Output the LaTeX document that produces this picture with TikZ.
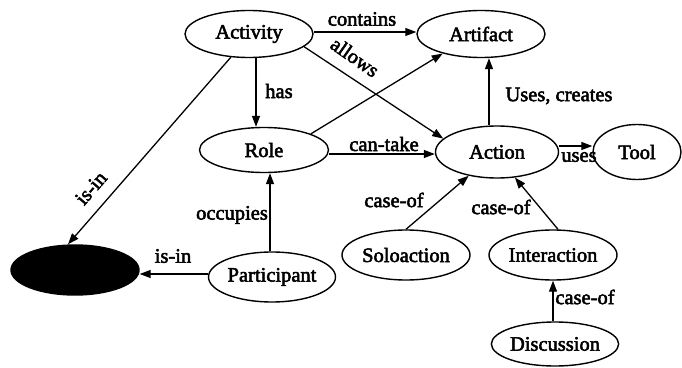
\documentclass[tikz,border=0pt]{standalone}
\usepackage{fontspec}
\setmainfont[FakeBold=2.5]{Liberation Serif}
\usetikzlibrary{shapes.geometric,arrows.meta}
\begin{document}
\begin{tikzpicture}[x=1pt,y=1pt,
  every node/.style={font=\fontsize{20.5}{24}\selectfont},
  concept/.style={ellipse,draw,line width=1.4pt,inner sep=0pt,
    minimum width=128pt,minimum height=47pt},
  rel/.style={line width=1.3pt,-{Triangle[length=11pt,width=8pt]}},
  lbl/.style={inner sep=0pt}]
\useasboundingbox (0,0) rectangle (682,367);

% concepts
\node[concept] (act) at (249,333) {Activity};
\node[concept] (art) at (481,333) {Artifact};
\node[concept,minimum height=45pt,minimum width=129pt] (role) at (264,217) {Role};
\node[concept,minimum width=123pt,minimum height=52pt] (action) at (497,215) {Action};
\node[concept,minimum width=88pt,minimum height=55pt] (tool) at (637,215) {Tool};
\node[concept,minimum height=50pt,fill=black] (ctx) at (75,97) {};
\node[concept,minimum width=127pt,minimum height=50pt] (part) at (272,90) {Participant};
\node[concept,minimum height=50pt] (solo) at (406,112) {Soloaction};
\node[concept,minimum height=50pt] (inter) at (553,112) {Interaction};
\node[concept,minimum width=125pt,minimum height=44pt] (disc) at (555,23) {Discussion};

% relations
\draw[rel] ([yshift=2]act.east) -- ([yshift=2]art.west);
\draw[rel] (act.-13) -- (action.166);
\draw[rel] ([xshift=7]act.south) -- ([xshift=-8]role.north);
\draw[rel] (role.19) -- (art.207);
\draw[rel] ([yshift=-4]role.east) -- ([yshift=-2]action.west);
\draw[rel] ([xshift=-8]action.north) -- ([xshift=8]art.south);
\draw[rel] ([yshift=6]action.east) -- ([yshift=6]tool.west);
\draw[rel] (solo.north) -- (action.220);
\draw[rel] ([xshift=5]inter.north) -- (action.-55);
\draw[rel] ([xshift=-2]disc.north) -- (inter.south);
\draw[rel] ([xshift=-2]part.north) -- ([xshift=6]role.south);
\draw[rel] ([yshift=3]part.west) -- ([yshift=-4]ctx.east);
\draw[rel] (act.232) -- ([xshift=-7]ctx.north);

% relation labels
\node[lbl] (lcontains) at (362,348) {contains};
\node[lbl,rotate=-35] (lallows) at (355,310) {allows};
\node[lbl] (lhas) at (279,276) {has};
\node[lbl] (luses) at (559,271) {Uses, creates};
\node[lbl] (lcantake) at (384,223) {can-take};
\node[lbl] (luse) at (579,210) {uses};
\node[lbl] (lcase1) at (394,167) {case-of};
\node[lbl] (lcase2) at (501,160) {case-of};
\node[lbl] (lcase3) at (585,70) {case-of};
\node[lbl] (locc) at (232,152) {occupies};
\node[lbl] (lisin1) at (173,111) {is-in};
\node[lbl,rotate=49] (lisin2) at (91,179) {is-in};
\end{tikzpicture}
\end{document}
